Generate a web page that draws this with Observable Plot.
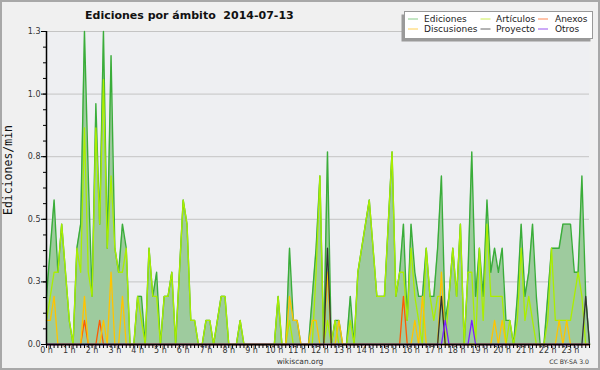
<!DOCTYPE html>
<html>
<head>
<meta charset="utf-8">
<script src="https://cdn.jsdelivr.net/npm/d3@7"></script>
<script src="https://cdn.jsdelivr.net/npm/@observablehq/plot@0.6"></script>
<style>
  body { margin: 0; background: #f0f0f0; }
  svg text.pre { white-space: pre; }
</style>
</head>
<body>
<div id="chart"></div>
<script>
// 10-minute bins, minutes since midnight
const minutes = d3.range(0, 1440, 10);

// Ediciones (total), edits/min
const ediciones = [
  0.2,0.4,0.6,0.3,0.5,0.3,0.1,0,0.4,0.5,1.3,0.7,0.2,1.0,0.5,1.3,0.4,1.2,0.4,0.3,
  0.5,0.4,0,0,0.2,0.2,0,0.4,0.2,0.3,0,0.2,0.2,0.3,0,0.3,0.6,0.5,0.1,0.1,
  0,0,0.1,0.1,0,0.1,0.2,0.2,0,0,0,0.1,0,0,0,0,0,0,0,0,
  0,0.2,0,0,0.4,0.1,0.1,0,0,0,0.2,0.4,0.7,0,0.8,0,0.1,0.1,0,0,
  0.2,0,0.3,0.4,0.5,0.6,0.4,0.2,0.2,0.2,0.5,0.8,0.2,0.3,0.5,0.1,0.5,0.3,0.2,0.2,
  0.4,0.2,0.2,0.4,0.7,0.1,0.2,0.4,0.2,0.5,0,0.3,0.8,0.2,0.4,0.2,0.6,0.3,0.4,0.3,
  0.4,0.1,0.1,0,0.2,0.5,0.2,0.3,0.5,0.2,0,0,0.2,0.4,0.4,0.4,0.5,0.5,0.5,0.3,
  0.3,0.7,0.2,0
];
// Artículos
const articulos = [
  0.1,0.2,0.3,0.3,0.5,0.3,0.1,0,0.4,0.3,0.9,0.3,0.2,0.9,0.5,1.1,0.4,0.7,0.4,0.3,
  0.3,0.4,0,0,0.2,0.1,0,0.4,0.2,0.2,0,0.2,0.2,0.3,0,0.3,0.6,0.5,0.1,0.1,
  0,0,0.1,0.1,0,0.1,0.2,0.2,0,0,0,0.1,0,0,0,0,0,0,0,0,
  0,0.2,0,0,0.1,0,0,0,0,0,0,0.3,0.7,0,0.1,0,0.1,0,0,0,
  0.1,0,0.3,0.4,0.5,0.6,0.4,0.2,0.2,0.2,0.5,0.8,0.2,0.3,0.3,0.1,0.4,0.2,0.1,0,
  0.4,0.2,0.1,0.2,0.2,0,0.2,0.4,0.2,0.5,0,0.3,0.3,0,0.4,0.1,0.5,0.2,0.2,0.2,
  0.2,0,0.1,0,0.1,0.4,0.1,0.2,0.1,0,0,0,0.1,0.4,0.1,0.1,0.1,0.1,0.1,0.2,
  0.3,0.2,0,0
];
// Anexos
const anexos = minutes.map(() => 0);
[[10,0.1],[14,0.1],[94,0.2]].forEach(([i,v]) => anexos[i] = v);
// Discusiones
const discusiones = minutes.map(() => 0);
[[0,0.1],[1,0.1],[2,0.2],[10,0.2],[15,0.1],[17,0.3],[20,0.2],[64,0.2],[65,0.1],[66,0.1],
 [70,0.1],[71,0.1],[74,0.3],[77,0.1],[97,0.1],[99,0.2],[104,0.3],[118,0.1],[120,0.1],
 [135,0.1],[137,0.1]].forEach(([i,v]) => discusiones[i] = v);
// Proyecto
const proyecto = minutes.map(() => 0);
[[74,0.4],[104,0.2],[142,0.2]].forEach(([i,v]) => proyecto[i] = v);
// Otros
const otros = minutes.map(() => 0);
[[105,0.1],[112,0.1]].forEach(([i,v]) => otros[i] = v);

const seriesNames = ["Ediciones","Artículos","Anexos","Discusiones","Proyecto","Otros"];
const seriesValues = [ediciones, articulos, anexos, discusiones, proyecto, otros];
const lineColors = ["#3aad3a","#aaee00","#ff5a00","#ffc400","#333333","#7a1fff"];
const legendColors = ["#88cc88","#ccee55","#ff8855","#ffd055","#666666","#9955ee"];
const legendOrder = ["Ediciones","Artículos","Anexos","Discusiones","Proyecto","Otros"];

const yMajor = d3.range(0, 6).map(k => k * 0.26);
const yMinor = d3.range(0, 21).map(k => k * 0.065);
const xMinor = d3.range(0, 1431, 10);
const xHours = d3.range(0, 1440, 60);

const data = minutes.map((t, i) => {
  const row = {t};
  seriesNames.forEach((n, s) => row[n] = seriesValues[s][i]);
  return row;
});

const lineMarks = seriesNames.map((n, s) =>
  Plot.lineY(data, {x: "t", y: n, stroke: lineColors[s], strokeWidth: s === 0 ? 1.4 : 1.3})
);

const svg = Plot.plot({
  width: 600,
  height: 370,
  marginLeft: 46,
  marginRight: 11,
  marginTop: 31,
  marginBottom: 26,
  style: {background: "#f0f0f0", fontFamily: "DejaVu Sans", overflow: "visible"},
  x: {domain: [0, 1430], axis: null},
  y: {domain: [0, 1.3], axis: null},
  marks: [
    Plot.frame({fill: "#eeeff2", stroke: null}),
    Plot.gridY(yMajor.slice(1), {stroke: "#c4c4c4", strokeOpacity: 1}),
    Plot.areaY(data, {x: "t", y: "Ediciones", fill: "#9ecb9e"}),
    ...lineMarks,
    Plot.axisY({ticks: yMinor, tickSize: 3, tickFormat: () => "", stroke: "#000", label: null}),
    Plot.axisY({ticks: yMajor, tickSize: 5, tickPadding: 1, tickFormat: d => d.toFixed(1), fill: "#333", stroke: "#000", fontSize: 8, label: null}),
    Plot.axisX({ticks: xMinor, tickSize: 4, tickFormat: () => "", stroke: "#000", label: null}),
    Plot.axisX({ticks: xHours, tickSize: 0, tickPadding: 3, tickFormat: d => `${d / 60} h`, fill: "#333", fontSize: 8, label: null}),
    Plot.ruleY([0], {stroke: "#000", strokeWidth: 1.5}),
    Plot.ruleX([0], {stroke: "#000", strokeWidth: 1.5})
  ]
});

const s = d3.select(svg);
// outer border
s.append("rect").attr("x", 1).attr("y", 1).attr("width", 598).attr("height", 368)
  .attr("fill", "none").attr("stroke", "#a8a8a8").attr("stroke-width", 2);
// title
s.append("text").attr("class", "pre").attr("x", 85).attr("y", 18.5).attr("text-anchor", "start")
  .attr("font-family", "DejaVu Sans").attr("font-weight", "bold").attr("font-size", 11)
  .attr("fill", "#111").text("Ediciones por ámbito  2014-07-13");
// y label
s.append("text").attr("transform", "translate(12,170) rotate(-90)")
  .attr("text-anchor", "middle").attr("font-family", "DejaVu Sans Mono").attr("font-size", 11.5)
  .attr("fill", "#111").text("Ediciones/min");
// footer
s.append("text").attr("x", 300).attr("y", 364).attr("text-anchor", "middle")
  .attr("font-family", "DejaVu Sans").attr("font-size", 7.5).attr("fill", "#333").text("wikiscan.org");
s.append("text").attr("x", 589).attr("y", 364).attr("text-anchor", "end")
  .attr("font-family", "DejaVu Sans").attr("font-size", 6.2).attr("fill", "#333").text("CC BY-SA 3.0");
// legend
const lg = s.append("g");
lg.append("rect").attr("x", 401.5).attr("y", 14.5).attr("width", 189).attr("height", 27).attr("fill", "#9a9a9a");
lg.append("rect").attr("x", 404.5).attr("y", 11.5).attr("width", 188).attr("height", 27)
  .attr("fill", "#fff").attr("stroke", "#999").attr("stroke-width", 1);
const colX = [408, 480.5, 538];
const textX = [424, 496, 555];
legendOrder.forEach((n, k) => {
  const c = k % 3, r = Math.floor(k / 3);
  const yy = 19 + r * 10;
  const si = seriesNames.indexOf(n);
  lg.append("line").attr("x1", colX[c]).attr("x2", colX[c] + 10).attr("y1", yy).attr("y2", yy)
    .attr("stroke", legendColors[si]).attr("stroke-width", 1);
  lg.append("text").attr("x", textX[c]).attr("y", yy + 3.3).attr("text-anchor", "start")
    .attr("font-family", "DejaVu Sans").attr("font-size", 9).attr("fill", "#222").text(n);
});

document.getElementById("chart").appendChild(svg);
</script>
</body>
</html>
